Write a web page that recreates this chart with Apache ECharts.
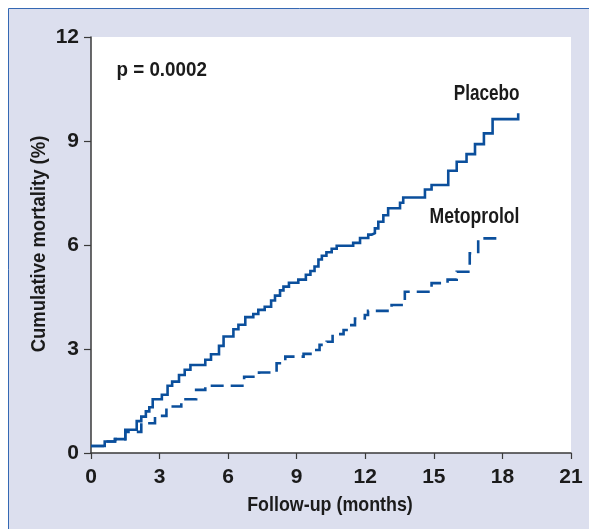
<!DOCTYPE html>
<html>
<head>
<meta charset="utf-8">
<script src="https://cdn.jsdelivr.net/npm/echarts@6/dist/echarts.min.js"></script>
<style>
html,body{margin:0;padding:0;background:#fff;}
#chart{width:589px;height:529px;}
</style>
</head>
<body>
<div id="chart"></div>
<script>
// Kaplan-Meier style cumulative mortality (%) vs follow-up (months)
const xTicks = [0, 3, 6, 9, 12, 15, 18, 21];
const yTicks = [0, 3, 6, 9, 12];
const placeboMonths = [0,0.6,1.05,1.5,2.0,2.2,2.4,2.55,2.7,3.1,3.35,3.55,3.85,4.1,4.35,5.0,5.25,5.6,5.8,6.23,6.45,6.75,7.1,7.32,7.6,7.88,8.05,8.27,8.42,8.66,9.07,9.4,9.6,9.78,9.95,10.1,10.3,10.53,10.75,11.47,11.77,12.13,12.28,12.42,12.57,12.79,13.0,13.52,13.66,14.61,14.9,15.63,16.0,16.43,16.8,17.19,17.57,18.69];
const placeboValues = [0.2,0.33,0.4,0.67,0.92,1.05,1.2,1.32,1.55,1.68,1.94,2.06,2.25,2.4,2.54,2.69,2.85,3.09,3.36,3.57,3.7,3.92,4.01,4.13,4.22,4.4,4.54,4.69,4.8,4.91,5.0,5.14,5.25,5.38,5.58,5.69,5.79,5.89,5.98,6.06,6.2,6.3,6.34,6.48,6.67,6.86,7.06,7.22,7.37,7.6,7.73,8.14,8.4,8.62,8.91,9.22,9.63,9.8];
const metoprololMonths = [0,0.6,1.05,1.5,2.2,2.8,3.3,3.95,4.6,5.0,6.7,7.35,8.12,8.5,9.3,9.75,10.0,10.31,10.57,11.05,11.3,11.55,11.98,12.12,13.15,13.73,14.9,15.6,16.0,16.57,16.94,18.04];
const metoprololValues = [0.2,0.33,0.4,0.61,0.86,1.07,1.34,1.55,1.82,1.94,2.2,2.32,2.59,2.78,2.86,2.97,3.12,3.21,3.43,3.55,3.69,3.88,3.98,4.1,4.27,4.65,4.9,5.0,5.23,5.76,6.19,6.19];
const seriesNames = ['Placebo', 'Metoprolol'];
const pText = 'p = 0.0002';
const xTitle = 'Follow-up (months)';
const yTitle = 'Cumulative mortality (%)';

const FONT = '"Liberation Sans",Arial,Helvetica,sans-serif';
const BLUE = '#0b4f9c';
const INK = '#1b1b1b';
const AX = '#3a3a3a';

const zip = (xs, ys) => xs.map((x, i) => [x, ys[i]]);
const txt = (text, size, extra) => Object.assign({
  type: 'text', z: 10, silent: true,
  style: { text: text, font: 'bold ' + size + 'px ' + FONT, fill: INK, align: 'left', verticalAlign: 'middle' }
}, extra);

const chart = echarts.init(document.getElementById('chart'));
chart.setOption({
  animation: false,
  backgroundColor: '#ffffff',
  graphic: [
    { type: 'rect', z: -10, silent: true,
      shape: { x: 8.5, y: 8.5, width: 700, height: 700 },
      style: { fill: '#dcdfee', stroke: '#3568b3', lineWidth: 1 } },
    txt(pText, 20, { x: 116.5, y: 70.5, scaleX: 0.94 }),
    (function () { const t = txt(seriesNames[0], 22, { x: 519.5, y: 94, scaleX: 0.78 }); t.style.align = 'right'; return t; })(),
    (function () { const t = txt(seriesNames[1], 22, { x: 519.5, y: 216.5, scaleX: 0.80 }); t.style.align = 'right'; return t; })(),
    (function () { const t = txt(xTitle, 21, { x: 330, y: 505, scaleX: 0.85 }); t.style.align = 'center'; return t; })(),
    (function () { const t = txt(yTitle, 21, { x: 39, y: 244, scaleX: 0.88, rotation: Math.PI / 2 }); t.style.align = 'center'; return t; })()
  ],
  grid: { left: 91, top: 37, right: 18, bottom: 76, show: true,
          backgroundColor: '#ffffff', borderWidth: 0, containLabel: false },
  xAxis: {
    type: 'value', min: xTicks[0], max: xTicks[xTicks.length - 1], interval: 3,
    axisLine: { show: true, lineStyle: { color: AX, width: 1.5 } },
    axisTick: { show: true, length: 6, inside: false, lineStyle: { color: AX, width: 1.2 } },
    axisLabel: { margin: 14, fontFamily: FONT, fontWeight: 'bold', fontSize: 21, color: INK,
      formatter: v => xTicks.includes(v) ? String(v) : '' },
    splitLine: { show: false }
  },
  yAxis: {
    type: 'value', min: yTicks[0], max: yTicks[yTicks.length - 1], interval: 3,
    axisLine: { show: true, lineStyle: { color: AX, width: 1.5 } },
    axisTick: { show: true, length: 7, inside: false, lineStyle: { color: AX, width: 1.2 } },
    axisLabel: { margin: 12, fontFamily: FONT, fontWeight: 'bold', fontSize: 21, color: INK,
      formatter: v => yTicks.includes(v) ? String(v) : '' },
    splitLine: { show: false }
  },
  series: [
    { name: seriesNames[0], type: 'line', step: 'end', showSymbol: false, symbol: 'none',
      data: zip(placeboMonths, placeboValues),
      lineStyle: { color: BLUE, width: 2.6, cap: 'butt', join: 'miter' }, z: 3 },
    { name: seriesNames[1], type: 'line', step: 'end', showSymbol: false, symbol: 'none',
      data: zip(metoprololMonths, metoprololValues),
      lineStyle: { color: BLUE, width: 2.6, type: [13, 7], cap: 'butt', join: 'miter' }, z: 2 }
  ]
});
</script>
</body>
</html>
